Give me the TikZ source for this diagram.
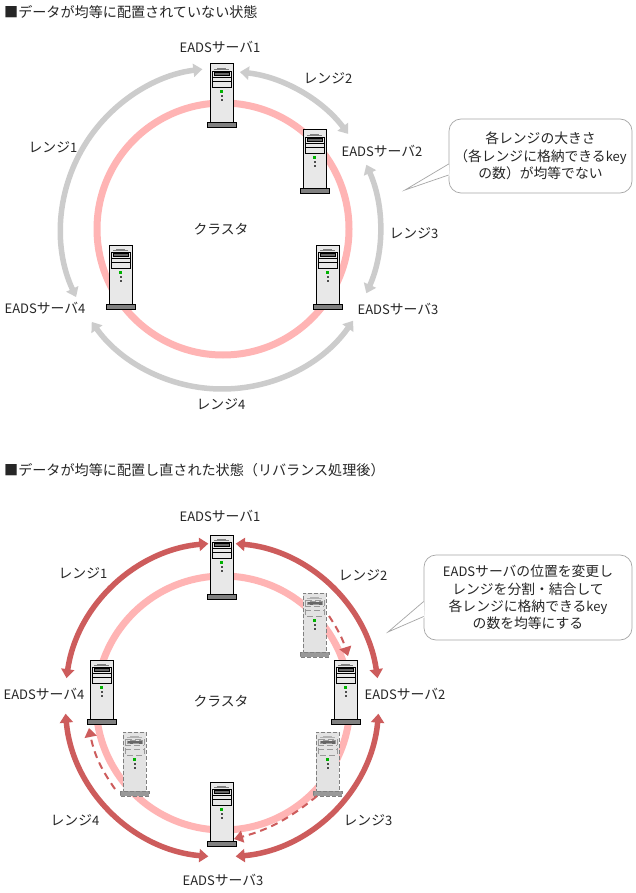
\documentclass[tikz,border=0pt]{standalone}
\usepackage{fontspec}
\setmainfont{Noto Sans CJK JP}
\usetikzlibrary{arrows.meta,calc}
\definecolor{pinkring}{HTML}{FFB4B4}
\definecolor{grayarc}{HTML}{CCCCCC}
\definecolor{redarc}{HTML}{CD5C5C}
\definecolor{lineg}{HTML}{808080}
\newcommand{\latn}[1]{{\fontsize{13}{14}\selectfont #1}}
\tikzset{
  x=1pt,y=1pt,
  lbl/.style={inner sep=0pt,font=\fontsize{13.8}{14}\selectfont,text=black!85},
  ttl/.style={inner sep=0pt,anchor=west,font=\fontsize{14.1}{15}\selectfont,text=black!85},
  ring/.style={draw=pinkring,line width=7pt},
  grayrange/.style={draw=grayarc,line width=5.5pt,{Triangle[width=13pt,length=9pt]}-{Triangle[width=13pt,length=9pt]}},
  redrange/.style={draw=redarc,line width=5.5pt,{Triangle[width=13pt,length=9pt]}-{Triangle[width=13pt,length=9pt]}},
  moved/.style={draw=redarc,line width=2pt,dash pattern=on 7pt off 5pt,-{Triangle[width=12pt,length=9pt]}},
  callbox/.style={draw=lineg!70,line width=0.7pt,rounded corners=12pt,fill=white,inner sep=0pt,align=center,
    font=\fontsize{13.8}{17.3}\selectfont,text=black!85},
  callptr/.style={draw=lineg!70,line width=0.7pt},
  srvbody/.style={draw=black,line width=1pt,fill=black!9},
  srvbase/.style={draw=black,line width=1pt,fill=lineg},
  srvdet/.style={draw=black,line width=0.7pt},
  srvtop/.style={draw=black!50,line width=0.8pt},
  ghost/.style={
    srvbody/.style={draw=lineg,line width=1pt,dash pattern=on 4pt off 2pt,fill=black!11},
    srvbase/.style={draw=lineg,line width=1pt,dash pattern=on 4pt off 2pt,fill=black!40},
    srvdet/.style={draw=lineg!80,line width=0.6pt,dash pattern=on 6pt off 3pt},
    srvtop/.style={draw=black!30,line width=0.8pt}},
  server/.pic={
    \node[srvbody,anchor=north west,minimum width=23pt,minimum height=59pt,inner sep=0pt,outer sep=0pt] (-body) at (0,0) {};
    \path[srvbase] (-3,-59) rectangle (26,-64);
    \path[srvtop] (7,-4) -- (16,-4);
    \path[srvtop] (4,-5.5) -- (19,-5.5);
    \path[srvdet] (2,-7) rectangle (21,-23);
    \path[srvdet,fill=black!60] (4,-8.5) rectangle (19,-11.5);
    \path[srvdet] (2,-17) -- (21,-17);
    \path[srvdet] (2,-13) -- (21,-13);
    \fill[green!70!black] (10,-26) rectangle (13,-29);
    \fill[black!70] (10.5,-31) rectangle (12.5,-33);
    \fill[black!70] (10.5,-35) rectangle (12.5,-37);
  }
}
\begin{document}
\begin{tikzpicture}
\useasboundingbox (0,0) rectangle (635,-893);
\fill[white] (0,0) rectangle (635,-893);
% ---------- upper diagram ----------
\node[ttl] (t1) at (4,-12) {■データが均等に配置されていない状態};
\coordinate (c1) at (223,-229);
\coordinate (g1) at (222,-229);
\draw[ring] (c1) circle[radius=126pt];
\draw[grayrange] ($(g1)+(205:161pt)$) arc[start angle=205,end angle=97,radius=161pt];
\draw[grayrange] ($(g1)+(83.5:158pt)$) arc[start angle=83.5,end angle=37,radius=158pt];
\draw[grayrange] ($(g1)+(24:158pt)$) arc[start angle=24,end angle=-24,radius=158pt];
\draw[grayrange] ($(g1)+(-35:160pt)$) arc[start angle=-35,end angle=-144.5,radius=160pt];
\pic (a1) at (210,-64) {server};
\pic (a2) at (303,-130) {server};
\pic (a3) at (316,-245) {server};
\pic (a4) at (109,-245) {server};
\node[lbl] (la1) at (220,-47) {\latn{EADS}サーバ\latn{1}};
\node[lbl] (la2) at (382,-151) {\latn{EADS}サーバ\latn{2}};
\node[lbl] (la3) at (398,-309) {\latn{EADS}サーバ\latn{3}};
\node[lbl] (la4) at (45,-308) {\latn{EADS}サーバ\latn{4}};
\node[lbl] (lr1) at (53,-147) {レンジ\latn{1}};
\node[lbl] (lr2) at (328,-78) {レンジ\latn{2}};
\node[lbl] (lr3) at (414,-233) {レンジ\latn{3}};
\node[lbl] (lr4) at (221,-404) {レンジ\latn{4}};
\node[lbl] (lc1) at (221,-229) {クラスタ};
\node[callbox,minimum width=183pt,minimum height=74pt] (call1) at (540.5,-156) {各レンジの大きさ\\（各レンジに格納できる\latn{key}\\の数）が均等でない};
\coordinate (tip1) at (405,-190);
\fill[white] (tip1) -- ($(call1.west)+(0,-8)$) -- ($(call1.west)+(1,-20)$) -- cycle;
\draw[callptr] ($(call1.west)+(0,-8)$) -- (tip1) -- ($(call1.west)+(0,-19)$);
% ---------- lower diagram ----------
\node[ttl] (t2) at (4,-470) {■データが均等に配置し直された状態（リバランス処理後）};
\coordinate (c2) at (223,-703);
\coordinate (g2) at (222,-700);
\draw[ring] (c2) circle[radius=127pt];
\draw[redrange] ($(g2)+(95:157pt)$) arc[start angle=95,end angle=172,radius=157pt];
\draw[redrange] ($(g2)+(85:157pt)$) arc[start angle=85,end angle=8,radius=157pt];
\draw[redrange] ($(g2)+(-5:157pt)$) arc[start angle=-5,end angle=-85,radius=157pt];
\draw[redrange] ($(g2)+(185:157pt)$) arc[start angle=185,end angle=265,radius=157pt];
\pic[ghost] (g5) at (303,-593) {server};
\pic[ghost] (g6) at (316,-732) {server};
\pic[ghost] (g7) at (123,-732) {server};
\pic (b1) at (210,-535) {server};
\pic (b2) at (334,-660) {server};
\pic (b3) at (210,-782) {server};
\pic (b4) at (90,-660) {server};
\coordinate (m1a) at (329,-616);
\coordinate (m1b) at (348,-656);
\coordinate (m2a) at (317,-796);
\coordinate (m2b) at (234,-839);
\coordinate (m3a) at (115,-789);
\coordinate (m3b) at (89,-728);
\draw[moved] (m1a) to[bend left=8] (m1b);
\draw[moved] (m2a) to[bend left=12] (m2b);
\draw[moved] (m3a) to[bend left=12] (m3b);
\node[lbl] (lb1) at (220,-516) {\latn{EADS}サーバ\latn{1}};
\node[lbl] (lb2) at (405,-694) {\latn{EADS}サーバ\latn{2}};
\node[lbl] (lb3) at (223,-880) {\latn{EADS}サーバ\latn{3}};
\node[lbl] (lb4) at (44,-694) {\latn{EADS}サーバ\latn{4}};
\node[lbl] (ls1) at (83,-573) {レンジ\latn{1}};
\node[lbl] (ls2) at (363,-575) {レンジ\latn{2}};
\node[lbl] (ls3) at (368,-820) {レンジ\latn{3}};
\node[lbl] (ls4) at (75,-820) {レンジ\latn{4}};
\node[lbl] (lc2) at (221,-701) {クラスタ};
\node[callbox,minimum width=208pt,minimum height=85pt] (call2) at (528,-597.5) {\latn{EADS}サーバの位置を変更し\\レンジを分割・結合して\\各レンジに格納できる\latn{key}\\の数を均等にする};
\coordinate (tip2) at (388,-632);
\fill[white] (tip2) -- ($(call2.west)+(0,-4)$) -- ($(call2.west)+(1,-20)$) -- cycle;
\draw[callptr] ($(call2.west)+(0,-4)$) -- (tip2) -- ($(call2.west)+(0,-19)$);
\end{tikzpicture}
\end{document}
